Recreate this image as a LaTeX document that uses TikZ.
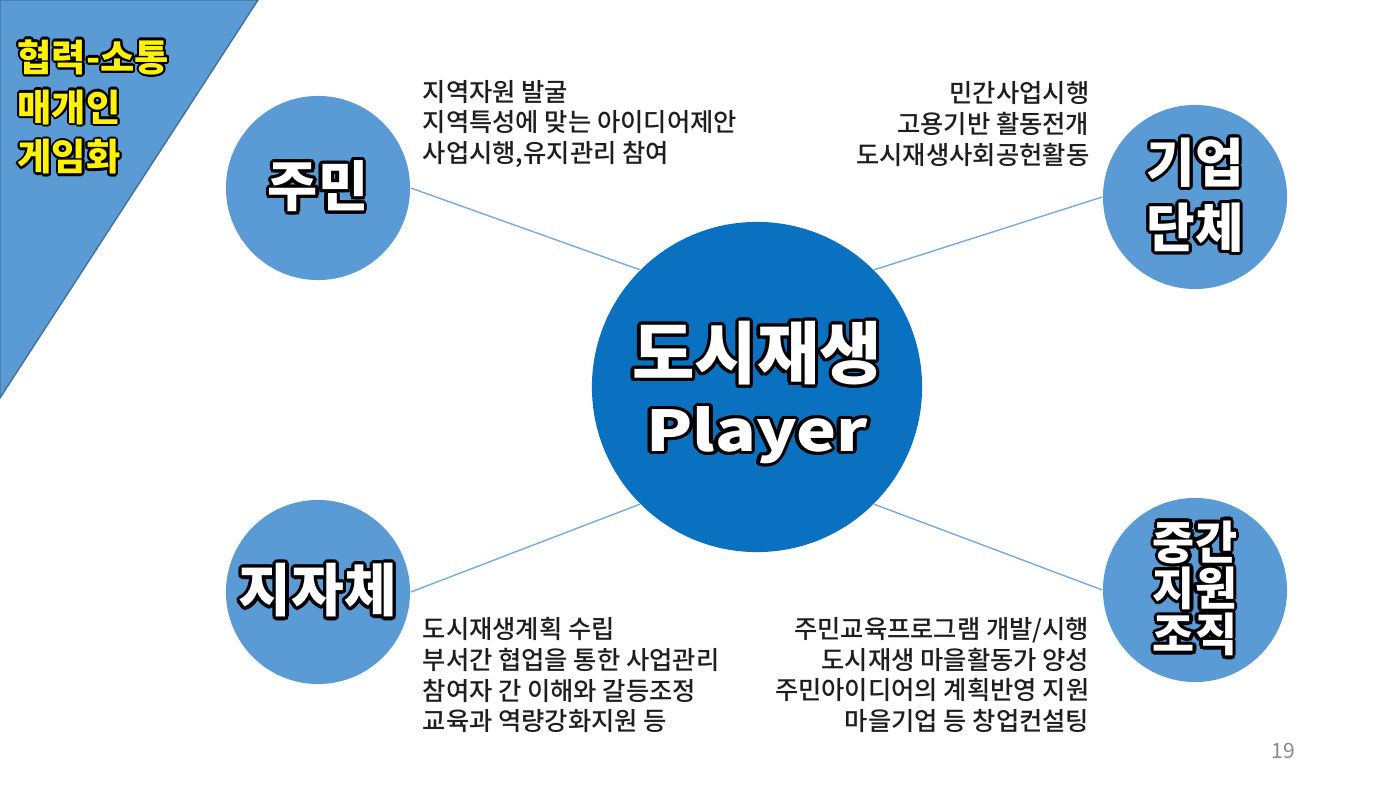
\documentclass[tikz,border=0pt]{standalone}
\usepackage{fontspec}
\usepackage{contour}
\newfontfamily\krtext{Noto Sans CJK KR Medium}
\newfontfamily\krplain{Noto Sans CJK KR}
\newfontfamily\krheavy{Noto Sans CJK KR Black}
\definecolor{roleblue}{RGB}{91,155,213}
\definecolor{playerblue}{RGB}{10,112,192}
\definecolor{edgeblue}{RGB}{65,113,156}
\definecolor{linkblue}{RGB}{120,170,220}
\definecolor{bodygray}{RGB}{30,30,30}
\definecolor{pagegray}{RGB}{140,140,140}
\contourlength{0.9pt}
\newcommand\ol[1]{\contour{black}{#1}}
\tikzset{
    role/.style = {circle, fill=roleblue, minimum size=1.84cm, inner sep=0pt,
                   text=white, align=center},
    link/.style = {draw=linkblue, line width=0.4pt},
    note/.style = {text=bodygray, inner sep=0pt,
                   font=\krtext\fontsize{7.2pt}{8.8pt}\selectfont}
}
\begin{document}
\begin{tikzpicture}[
        x = 0.01cm,
        y = -0.01cm
    ]
        \useasboundingbox (0,0) rectangle (1400,788);
        % corner banner
        \filldraw[fill=roleblue, draw=edgeblue, line width=0.4pt] (0,0) -- (258,0) -- (0,398) -- cycle;
        \node[anchor=west, inner sep=0pt, align=left, text=yellow,
              font=\krheavy\fontsize{10.6pt}{14.2pt}\selectfont] (banner) at (17,108)
            {\contourlength{0.6pt}\ol{협력-소통}\\\contourlength{0.6pt}\ol{매개인}\\\contourlength{0.6pt}\ol{게임화}};
        % centre and roles
        \node[circle, fill=playerblue, minimum size=3.3cm, inner sep=0pt] (player) at (757,387) {};
        \node[text=white, font=\krheavy\fontsize{19.3pt}{22pt}\selectfont] (playertitle) at (757,355) {\ol{도시재생}};
        \node[text=white, font=\krheavy\fontsize{16pt}{20pt}\selectfont] (playername) at (757,437) {\scalebox{1.2}[1]{\ol{Player}}};
        \node[role, font=\krheavy\fontsize{15.5pt}{18pt}\selectfont] (jumin) at (318,188) {\ol{주민}};
        \node[role, font=\krheavy\fontsize{15pt}{18.5pt}\selectfont] (giup) at (1195,197) {\ol{기업}\\\ol{단체}};
        \node[role, font=\krheavy\fontsize{16.3pt}{18pt}\selectfont] (jijache) at (318,592) {\ol{지자체}};
        \node[role, font=\krheavy\fontsize{13pt}{13.2pt}\selectfont] (jungan) at (1195,590) {\ol{중간}\\\ol{지원}\\\ol{조직}};
        \draw[link] (jumin.east) -- (player.135);
        \draw[link] (player.45) -- (giup.west);
        \draw[link] (jijache.east) -- (player.-135);
        \draw[link] (player.-45) -- (jungan.west);
        % notes
        \node[note, anchor=west, align=left] (juminnote) at (422,124)
            {지역자원 발굴\\지역특성에 맞는 아이디어제안\\사업시행,유지관리 참여};
        \node[note, anchor=east, align=right] (giupnote) at (1090,124)
            {민간사업시행\\고용기반 활동전개\\도시재생사회공헌활동};
        \node[note, anchor=west, align=left] (jijachenote) at (422,675)
            {도시재생계획 수립\\부서간 협업을 통한 사업관리\\참여자 간 이해와 갈등조정\\교육과 역량강화지원 등};
        \node[note, anchor=east, align=right] (jungannote) at (1090,675)
            {주민교육프로그램 개발/시행\\도시재생 마을활동가 양성\\주민아이디어의 계획반영 지원\\마을기업 등 창업컨설팅};
        \node[text=pagegray, font=\krplain\fontsize{6pt}{7pt}\selectfont] (pagenum) at (1283,751) {19};
    \end{tikzpicture}
\end{document}
